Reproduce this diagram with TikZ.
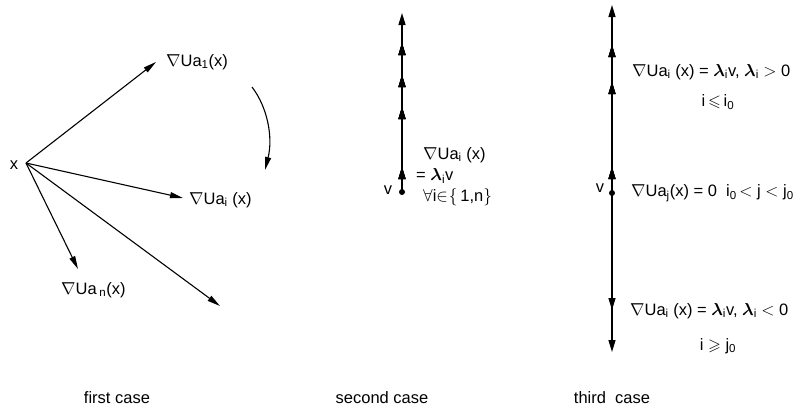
\documentclass[tikz,border=0pt]{standalone}
\usepackage{amssymb}
\usepackage{fontspec}
\setmainfont{Liberation Sans}
\usetikzlibrary{arrows.meta,decorations.markings}
\newcommand\sbs[1]{\textsubscript{#1}}
\newcommand\lam{{\boldmath$\lambda$}}
\newcommand\nab{$\nabla$}
\tikzset{
  lbl/.style={inner sep=0pt, font=\fontsize{16.5}{19}\selectfont},
  captxt/.style={inner sep=0pt, font=\fontsize{16.5}{19}\selectfont},
  vec/.style={line width=1.1pt, -{Triangle[length=13pt,width=6pt]}},
  axisline/.style={line width=1.3pt, -{Triangle[length=12pt,width=7pt]}},
  dotv/.style={circle, fill, inner sep=0pt, minimum size=6pt},
  midtip/.style={postaction={decorate}, decoration={markings,
     mark=at position #1 with {\arrow{Triangle[length=12pt,width=7pt]}}}},
}
\begin{document}
\begin{tikzpicture}[x=1pt,y=-1pt]
\useasboundingbox (0,0) rectangle (806,410);
% ---------- first case
\coordinate (x0) at (26,163);
\coordinate (t1) at (156,62);
\coordinate (ti) at (183,198);
\coordinate (tn) at (78,269);
\coordinate (tl) at (220,306);
\node[lbl] (xl) at (14,165) {x};
\draw[vec] (x0) -- (t1);
\draw[vec] (x0) -- (ti);
\draw[vec] (x0) -- (tn);
\draw[vec] (x0) -- (tl);
\node[lbl, anchor=west] (l1) at (166,62) {\nab Ua\sbs{1}(x)};
\node[lbl, anchor=west] (li) at (189,200) {\nab Ua\sbs{i} (x)};
\node[lbl, anchor=west] (ln) at (61,290) {\nab Ua\,\sbs{n}(x)};
\coordinate (c0) at (252,87);
\coordinate (c1) at (265,170);
\draw[vec] (c0) .. controls (268,108) and (273,138) .. (c1);
% ---------- second case
\node[dotv] (v2) at (402,192) {};
\coordinate (top2) at (402,13);
\node[lbl] (v2l) at (388,190) {v};
\draw[axisline, midtip=25pt, midtip=85pt, midtip=117pt, midtip=149pt] (v2.center) -- (top2);
\node[lbl, anchor=west] (s1) at (423,155) {\nab Ua\sbs{i} (x)};
\node[lbl, anchor=west] (s2) at (416,176) {= \lam\sbs{i}v};
\node[lbl, anchor=west] (s3) at (423,197) {$\forall$i$\in$\kern1pt$\{$\,1,n$\}$};
% ---------- third case
\node[dotv] (v3) at (612,193) {};
\coordinate (top3) at (612,5);
\coordinate (bot3) at (612,352);
\node[lbl] (v3l) at (600,188) {v};
\draw[axisline, midtip=26pt, midtip=111pt, midtip=148pt] (v3.center) -- (top3);
\draw[axisline, midtip=117pt] (v3.center) -- (bot3);
\node[lbl, anchor=west] (r1) at (632,72) {\nab Ua\sbs{i} (x) = \lam\sbs{i}v, \lam\sbs{i} $>$ 0};
\node[lbl] (r2) at (718,102) {i\,$\leqslant$\,i\sbs{0}};
\node[lbl, anchor=west] (r3) at (631,193) {\nab Ua\sbs{j}(x) = 0\ \ i\sbs{0}\,$<$\ j\ $<$\ j\sbs{0}};
\node[lbl, anchor=west] (r4) at (630,311) {\nab Ua\sbs{i} (x) = \lam\sbs{i}v, \lam\sbs{i} $<$ 0};
\node[lbl] (r5) at (718,346) {i $\geqslant$ j\sbs{0}};
% ---------- captions
\node[captxt] (cap1) at (117,398) {first case};
\node[captxt] (cap2) at (382,398) {second case};
\node[captxt] (cap3) at (612,398) {third\ \ case};
\end{tikzpicture}
\end{document}
